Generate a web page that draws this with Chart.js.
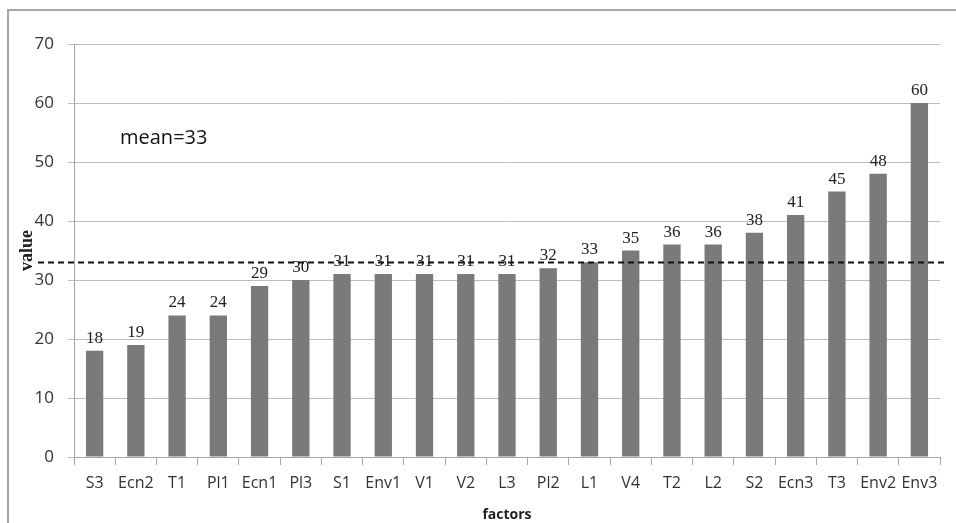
<!DOCTYPE html>
<html>
<head>
<meta charset="utf-8">
<script src="https://cdn.jsdelivr.net/npm/chart.js@4/dist/chart.umd.min.js"></script>
<style>
  body { margin: 0; background: #fff; }
  #wrap { width: 956px; height: 523px; position: relative; }
</style>
</head>
<body>
<div id="wrap"><canvas id="grafico" width="956" height="523"></canvas></div>
<script>
// dados do grafico
var fatores = ['S3','Ecn2','T1','Pl1','Ecn1','Pl3','S1','Env1','V1','V2','L3','Pl2','L1','V4','T2','L2','S2','Ecn3','T3','Env2','Env3'];
var valores = [18,19,24,24,29,30,31,31,31,31,31,32,33,35,36,36,38,41,45,48,60];
var media = 33;
var ticksY = [0,10,20,30,40,50,60,70];

// moldura, linha da media e rotulos
var extras = {
  id: 'extras',
  beforeDraw: function (chart) {
    var ctx = chart.ctx;
    ctx.save();
    ctx.strokeStyle = '#a6a6a6';
    ctx.lineWidth = 2;
    ctx.beginPath();
    ctx.moveTo(8, 523);
    ctx.lineTo(8, 10);
    ctx.lineTo(956, 10);
    ctx.stroke();
    ctx.restore();
  },
  afterDatasetsDraw: function (chart) {
    var ctx = chart.ctx;
    var y = chart.scales.y;
    var meta = chart.getDatasetMeta(0);
    ctx.save();
    // rotulos de valor
    ctx.fillStyle = '#222';
    ctx.font = '17px "Liberation Serif", serif';
    ctx.textAlign = 'center';
    ctx.textBaseline = 'alphabetic';
    for (var i = 0; i < meta.data.length; i++) {
      var bar = meta.data[i];
      ctx.fillText(String(valores[i]), bar.x, bar.y - 8);
    }
    // linha tracejada da media
    var py = Math.round(y.getPixelForValue(media)) + 0.5;
    ctx.strokeStyle = '#111';
    ctx.lineWidth = 2;
    ctx.setLineDash([6, 4]);
    ctx.beginPath();
    ctx.moveTo(38, py);
    ctx.lineTo(946, py);
    ctx.stroke();
    ctx.setLineDash([]);
    // texto da media
    ctx.fillStyle = '#111';
    ctx.font = '20px "Open Sans", sans-serif';
    ctx.textAlign = 'left';
    ctx.textBaseline = 'middle';
    ctx.fillText('mean=' + media, 120, 138);
    ctx.restore();
  }
};

var config = {
  type: 'bar',
  data: {
    labels: fatores,
    datasets: [{
      label: 'value',
      data: valores,
      backgroundColor: '#7a7a7c',
      barPercentage: 0.42,
      categoryPercentage: 1.0
    }]
  },
  options: {
    responsive: false,
    animation: false,
    layout: { padding: { left: 17, right: 16, top: 44, bottom: 0 } },
    plugins: { legend: { display: false }, tooltip: { enabled: false } },
    scales: {
      x: {
        offset: true,
        grid: { display: true, drawOnChartArea: false, offset: true, tickLength: 8, color: '#a6a6a6' },
        border: { color: '#a6a6a6' },
        ticks: { color: '#333', font: { family: 'Open Sans', size: 16 }, maxRotation: 0, autoSkip: false, padding: 9 },
        title: { display: true, text: 'factors', color: '#222', font: { family: 'Open Sans', size: 14, weight: 'bold' }, padding: { top: 4, bottom: 0 } }
      },
      y: {
        min: 0,
        max: 70,
        afterBuildTicks: function (scale) {
          scale.ticks = ticksY.map(function (v) { return { value: v }; });
        },
        afterFit: function (scale) { scale.width = 57; },
        grid: { color: '#bdbdbd', tickLength: 6 },
        border: { color: '#a6a6a6' },
        ticks: { color: '#333', font: { family: 'Open Sans', size: 17 }, padding: 14 },
        title: { display: true, text: 'value', color: '#222', font: { family: 'Liberation Serif', size: 18, weight: 'bold' }, padding: 0 }
      }
    }
  },
  plugins: [extras]
};

var myChart = new Chart(document.getElementById('grafico'), config);
</script>
</body>
</html>
